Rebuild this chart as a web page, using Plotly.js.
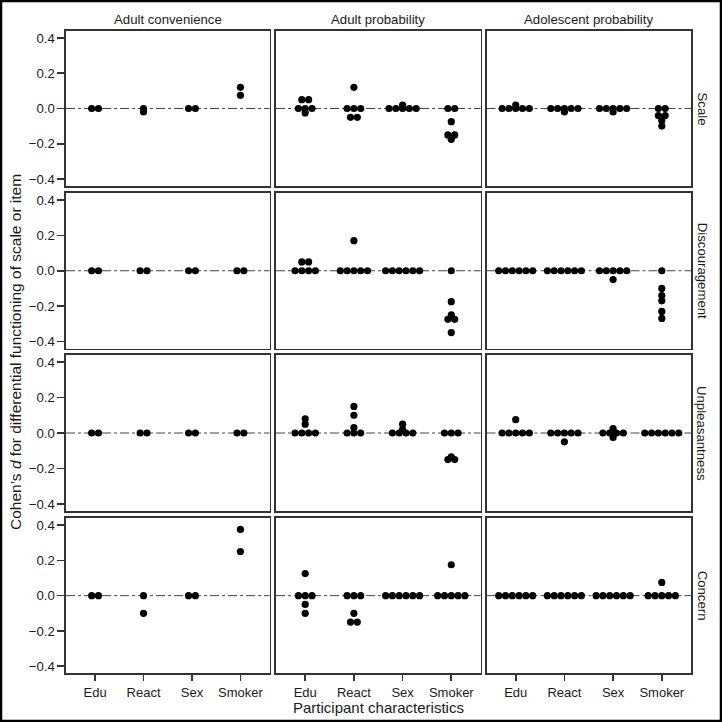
<!DOCTYPE html>
<html>
<head>
<meta charset="utf-8">
<script src="https://cdn.plot.ly/plotly-3.0.1.min.js"></script>
<style>
html,body{margin:0;padding:0;background:#fff;}
#chart{width:722px;height:722px;}
</style>
</head>
<body>
<div id="chart"></div>
<script>
// ---- data ----
const categories = ['Edu', 'React', 'Sex', 'Smoker'];
const samples = ['Adult convenience', 'Adult probability', 'Adolescent probability'];
const outcomes = ['Scale', 'Discouragement', 'Unpleasantness', 'Concern'];

// values per category: [Edu, React, Sex, Smoker]
const scale_adultConv = [[0, 0], [0, -0.02], [0, 0], [0.12, 0.075]];
const scale_adultProb = [[0.05, 0.05, 0, 0, 0, -0.025], [0.12, 0, 0, 0, -0.05, -0.05], [0, 0, 0, 0, 0, 0.02], [0, 0, -0.075, -0.15, -0.15, -0.175]];
const scale_adolProb = [[0, 0, 0, 0, 0, 0.02], [0, 0, 0, 0, 0, -0.02], [0, 0, 0, 0, 0, -0.02], [0, 0, -0.04, -0.04, -0.07, -0.1]];

const disc_adultConv = [[0, 0], [0, 0], [0, 0], [0, 0]];
const disc_adultProb = [[0.05, 0.05, 0, 0, 0, 0], [0.17, 0, 0, 0, 0, 0], [0, 0, 0, 0, 0, 0], [0, -0.175, -0.25, -0.275, -0.275, -0.35]];
const disc_adolProb = [[0, 0, 0, 0, 0, 0], [0, 0, 0, 0, 0, 0], [0, 0, 0, 0, 0, -0.05], [0, -0.1, -0.14, -0.17, -0.23, -0.27]];

const unpl_adultConv = [[0, 0], [0, 0], [0, 0], [0, 0]];
const unpl_adultProb = [[0.08, 0.05, 0, 0, 0, 0], [0.15, 0.1, 0.03, 0, 0, 0], [0.05, 0.02, 0, 0, 0, 0], [0, 0, 0, -0.135, -0.15, -0.15]];
const unpl_adolProb = [[0.075, 0, 0, 0, 0, 0], [0, 0, 0, 0, 0, -0.05], [0.025, -0.025, 0, 0, 0, 0], [0, 0, 0, 0, 0, 0]];

const conc_adultConv = [[0, 0], [0, -0.1], [0, 0], [0.375, 0.25]];
const conc_adultProb = [[0.125, 0, 0, 0, -0.05, -0.1], [0, 0, 0, -0.1, -0.15, -0.15], [0, 0, 0, 0, 0, 0], [0.175, 0, 0, 0, 0, 0]];
const conc_adolProb = [[0, 0, 0, 0, 0, 0], [0, 0, 0, 0, 0, 0], [0, 0, 0, 0, 0, 0], [0, 0, 0, 0, 0.075, 0]];

const panels = [
  [scale_adultConv, scale_adultProb, scale_adolProb],
  [disc_adultConv, disc_adultProb, disc_adolProb],
  [unpl_adultConv, unpl_adultProb, unpl_adolProb],
  [conc_adultConv, conc_adultProb, conc_adolProb]
];
const yTicks = [-0.4, -0.2, 0, 0.2, 0.4];

// ---- layout geometry (pixels) ----
const W = 722, H = 722;
const colPx = [[66, 269.5], [276, 480.5], [486.5, 691]];
const rowPx = [[31, 186], [193, 348.5], [355, 511], [518, 673.3]];
const xRange = [0.4, 4.6];
const yRange = [-0.44, 0.44];
const dotPx = 6.8;
const FONT = 'Liberation Sans, Arial, Helvetica, sans-serif';
const TXT = '#1a1a1a';

const traces = [];
const layout = {
  width: W, height: H,
  margin: {l: 0, r: 0, t: 0, b: 0},
  paper_bgcolor: '#fff', plot_bgcolor: '#fff',
  showlegend: false,
  font: {family: FONT, size: 13.2, color: TXT},
  shapes: [], annotations: []
};

function group(vals) {
  const m = new Map();
  vals.forEach(v => {
    const k = v.toFixed(4);
    if (!m.has(k)) m.set(k, []);
    m.get(k).push(v);
  });
  return [...m.values()];
}

for (let r = 0; r < 4; r++) {
  for (let c = 0; c < 3; c++) {
    const i = r * 3 + c + 1;
    const sfx = i === 1 ? '' : String(i);
    const xd = [colPx[c][0] / W, colPx[c][1] / W];
    const yd = [1 - rowPx[r][1] / H, 1 - rowPx[r][0] / H];
    const unitPerPx = (xRange[1] - xRange[0]) / (colPx[c][1] - colPx[c][0]);
    const xs = [], ys = [];
    panels[r][c].forEach((vals, ci) => {
      group(vals).forEach(g => {
        const n = g.length;
        g.forEach((v, k) => {
          xs.push(ci + 1 + (k - (n - 1) / 2) * dotPx * unitPerPx);
          ys.push(v);
        });
      });
    });
    traces.push({
      type: 'scatter', mode: 'markers', x: xs, y: ys,
      xaxis: 'x' + sfx, yaxis: 'y' + sfx,
      marker: {size: 7.2, color: '#000', line: {width: 0}},
      hoverinfo: 'skip', cliponaxis: false
    });
    const bottom = r === 3, left = c === 0;
    layout['xaxis' + sfx] = {
      domain: xd, anchor: 'y' + sfx, range: xRange,
      tickvals: [1, 2, 3, 4], ticktext: categories,
      showticklabels: bottom, ticks: bottom ? 'outside' : '',
      ticklen: 6, tickwidth: 1.6, tickcolor: '#333',
      showline: true, mirror: true, linecolor: '#333', linewidth: 1.6,
      showgrid: false, zeroline: false, fixedrange: true,
      tickfont: {size: 13, color: TXT, family: FONT}
    };
    layout['yaxis' + sfx] = {
      domain: yd, anchor: 'x' + sfx, range: yRange,
      tickvals: yTicks, tickformat: '.1f',
      showticklabels: left, ticks: left ? 'outside' : '',
      ticklen: 7, tickwidth: 1.6, tickcolor: '#333',
      showline: true, mirror: true, linecolor: '#333', linewidth: 1.6,
      showgrid: false, zeroline: false, fixedrange: true,
      tickfont: {size: 13.2, color: TXT, family: FONT}
    };
    layout.shapes.push({
      type: 'line', xref: 'x' + sfx + ' domain', yref: 'y' + sfx,
      x0: 0, x1: 1, y0: 0, y1: 0, layer: 'below',
      line: {color: '#444', width: 1, dash: 'dashdot'}
    });
  }
}

// column strip labels
samples.forEach((s, c) => {
  layout.annotations.push({
    text: s, xref: 'paper', yref: 'paper',
    x: (colPx[c][0] + colPx[c][1]) / 2 / W, y: 1 - 20 / H,
    xanchor: 'center', yanchor: 'middle', showarrow: false,
    font: {size: 13.2, color: TXT, family: FONT}
  });
});
// row strip labels
outcomes.forEach((o, r) => {
  layout.annotations.push({
    text: o, xref: 'paper', yref: 'paper',
    x: 702 / W, y: 1 - (rowPx[r][0] + rowPx[r][1]) / 2 / H,
    xanchor: 'center', yanchor: 'middle', showarrow: false, textangle: 90,
    font: {size: 13.2, color: TXT, family: FONT}
  });
});
// axis titles
layout.annotations.push({
  text: 'Cohen’s <i>d</i> for differential functioning of scale or item',
  xref: 'paper', yref: 'paper', x: 15 / W, y: 1 - 352 / H,
  xanchor: 'center', yanchor: 'middle', showarrow: false, textangle: -90,
  font: {size: 15.5, color: TXT, family: FONT}
});
layout.annotations.push({
  text: 'Participant characteristics',
  xref: 'paper', yref: 'paper', x: 378.5 / W, y: 1 - 707.5 / H,
  xanchor: 'center', yanchor: 'middle', showarrow: false,
  font: {size: 15, color: TXT, family: FONT}
});
// outer frame
layout.shapes.push({
  type: 'rect', xref: 'paper', yref: 'paper',
  x0: 1 / W, x1: 1 - 1 / W, y0: 1 / H, y1: 1 - 1 / H,
  line: {color: '#000', width: 2.5}, fillcolor: 'rgba(0,0,0,0)'
});

Plotly.newPlot('chart', traces, layout, {displayModeBar: false, staticPlot: true});
</script>
</body>
</html>
